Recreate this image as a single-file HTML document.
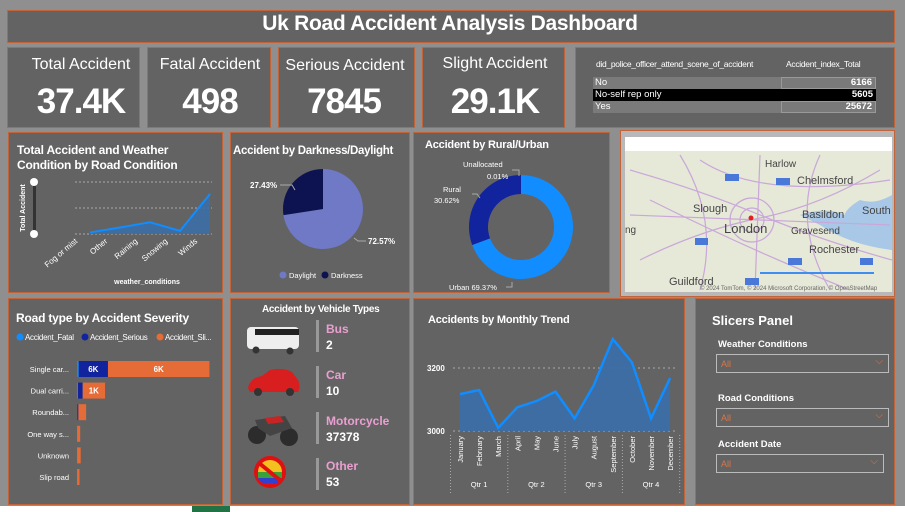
<!DOCTYPE html>
<html><head><meta charset="utf-8"><style>
*{box-sizing:border-box;margin:0;padding:0}
body{width:905px;height:512px;background:#8f8f8f;font-family:"Liberation Sans",sans-serif;position:relative;overflow:hidden;color:#fff}
.p{position:absolute;background:#636363;border:1px solid #c0643c}
.t{position:absolute;font-weight:bold;white-space:nowrap}
.k{font-weight:normal;font-size:16px;text-align:center;width:160px}
.v{font-size:35px;text-align:center;letter-spacing:-1px;width:160px}
svg{position:absolute;left:0;top:0}
</style></head><body>
<div class="p" style="left:7px;top:10px;width:888px;height:33px"></div>
<div class="t" style="left:5px;width:890px;text-align:center;top:12px;font-size:21px;letter-spacing:-0.3px">Uk Road Accident Analysis Dashboard</div>

<div class="p" style="left:7px;top:47px;width:133px;height:81px"></div>
<div class="t k" style="left:1px;top:56px">Total Accident</div>
<div class="t v" style="left:1px;top:82px">37.4K</div>
<div class="p" style="left:147px;top:47px;width:124px;height:81px"></div>
<div class="t k" style="left:130px;top:56px">Fatal Accident</div>
<div class="t v" style="left:130px;top:82px">498</div>
<div class="p" style="left:278px;top:47px;width:137px;height:81px"></div>
<div class="t k" style="left:265px;top:57px">Serious Accident</div>
<div class="t v" style="left:264px;top:82px">7845</div>
<div class="p" style="left:422px;top:47px;width:143px;height:81px"></div>
<div class="t k" style="left:415px;top:55px">Slight Accident</div>
<div class="t v" style="left:415px;top:82px">29.1K</div>
<div class="p" style="left:575px;top:47px;width:320px;height:81px"></div>
<div style="position:absolute;left:596px;top:59px;font-size:8.5px;letter-spacing:-0.3px;white-space:nowrap">did_police_officer_attend_scene_of_accident</div>
<div style="position:absolute;left:786px;top:59px;font-size:8.5px;letter-spacing:-0.3px;white-space:nowrap">Accident_index_Total</div>
<div style="position:absolute;left:593px;top:77px;width:283px;font-size:9.5px">
<div style="display:flex;background:#7a7a7a;height:12px;line-height:12px"><span style="width:188px;padding-left:2px">No</span><span style="flex:1;text-align:right;padding-right:3px;font-weight:bold;border:1px solid #999;line-height:10px">6166</span></div>
<div style="display:flex;background:#000;height:12px;line-height:12px"><span style="width:188px;padding-left:2px">No-self rep only</span><span style="flex:1;text-align:right;padding-right:3px;font-weight:bold">5605</span></div>
<div style="display:flex;background:#7a7a7a;height:12px;line-height:12px"><span style="width:188px;padding-left:2px">Yes</span><span style="flex:1;text-align:right;padding-right:3px;font-weight:bold;border:1px solid #999;line-height:10px">25672</span></div>
</div>

<div class="p" style="left:8px;top:132px;width:215px;height:161px"></div>
<div class="p" style="left:230px;top:132px;width:180px;height:161px"></div>
<div class="p" style="left:413px;top:132px;width:197px;height:161px"></div>
<div class="p" style="left:620px;top:130px;width:275px;height:167px;background:#b8b8b8"></div>
<div class="p" style="left:8px;top:298px;width:215px;height:207px"></div>
<div class="p" style="left:230px;top:298px;width:180px;height:207px"></div>
<div class="p" style="left:413px;top:298px;width:272px;height:207px"></div>
<div class="p" style="left:695px;top:298px;width:200px;height:207px"></div>
<div style="position:absolute;left:0;top:506px;width:905px;height:6px;background:#fff"></div>
<div style="position:absolute;left:192px;top:506px;width:38px;height:6px;background:#217346"></div>

<div class="t" style="left:17px;top:143px;font-size:12px;line-height:15px;letter-spacing:-0.2px">Total Accident and Weather<br>Condition by Road Condition</div>
<div class="t" style="left:233px;top:145px;font-size:11.5px;letter-spacing:-0.3px">Accident by Darkness/Daylight</div>
<div class="t" style="left:425px;top:139px;font-size:11px;letter-spacing:-0.2px">Accident by Rural/Urban</div>
<div class="t" style="left:16px;top:311px;font-size:12px;letter-spacing:-0.2px">Road type by Accident Severity</div>
<div class="t" style="left:262px;top:304px;font-size:10px;letter-spacing:-0.3px">Accident by Vehicle Types</div>
<div class="t" style="left:428px;top:314px;font-size:11px;letter-spacing:-0.2px">Accidents by Monthly Trend</div>
<div class="t" style="left:712px;top:313px;font-size:13px">Slicers Panel</div>

<div class="t" style="left:718px;top:339px;font-size:9.5px">Weather Conditions</div>
<div style="position:absolute;left:716px;top:354px;width:173px;height:19px;border:1px solid #bbb;color:#d9764a;font-size:9px;padding:4px 4px">All<span style="position:absolute;right:5px;top:1px;font-size:10px">⌵</span></div>
<div class="t" style="left:718px;top:393px;font-size:9.5px">Road Conditions</div>
<div style="position:absolute;left:716px;top:408px;width:173px;height:19px;border:1px solid #bbb;color:#d9764a;font-size:9px;padding:4px 4px">All<span style="position:absolute;right:5px;top:1px;font-size:10px">⌵</span></div>
<div class="t" style="left:718px;top:439px;font-size:9.5px">Accident Date</div>
<div style="position:absolute;left:716px;top:454px;width:168px;height:19px;border:1px solid #bbb;color:#d9764a;font-size:9px;padding:4px 4px">All<span style="position:absolute;right:5px;top:1px;font-size:10px">⌵</span></div>

<svg width="905" height="512" id="c" font-family="Liberation Sans, sans-serif">
<g>
<rect x="625" y="137" width="267" height="14" fill="#fff"/>
<rect x="625" y="151" width="267" height="141" fill="#e6e8d8"/>
<path d="M860 200 Q875 205 892 195 L892 240 Q870 235 850 225 Q835 215 860 200Z" fill="#a9c8e8"/>
<path d="M800 215 Q830 205 850 218 Q860 230 892 238 L892 250 Q850 245 820 225Z" fill="#a9c8e8"/>
<g stroke="#c9a7d9" stroke-width="1.2" fill="none">
<path d="M630 170 Q700 190 760 215 T892 260"/><path d="M640 260 Q700 230 760 218 T880 170"/>
<path d="M760 155 L755 290"/><path d="M630 215 L890 225"/><path d="M680 155 Q720 220 700 290"/>
<path d="M820 155 Q790 220 830 290"/><path d="M650 200 Q750 250 850 290"/><path d="M700 160 Q760 200 890 180"/>
<circle cx="752" cy="220" r="22"/><circle cx="752" cy="220" r="12"/>
</g>
<circle cx="751" cy="218" r="2.5" fill="#e02020"/>
<g fill="#444" font-size="11"><text x="765" y="167" font-size="10">Harlow</text><text x="797" y="184">Chelmsford</text><text x="693" y="212">Slough</text><text x="724" y="233" font-size="13">London</text><text x="802" y="218">Basildon</text><text x="862" y="214">South</text><text x="791" y="234" font-size="10">Gravesend</text><text x="809" y="253">Rochester</text><text x="669" y="285">Guildford</text><text x="625" y="233" font-size="10">ng</text></g>
<g fill="#4a78d8"><rect x="725" y="174" width="14" height="7"/><rect x="776" y="178" width="14" height="7"/><rect x="695" y="238" width="13" height="7"/><rect x="788" y="258" width="14" height="7"/><rect x="860" y="258" width="13" height="7"/><rect x="745" y="278" width="14" height="7"/></g>
<rect x="760" y="272" width="114" height="2" fill="#3d8ef0"/>
<text x="700" y="290" font-size="6" fill="#666">© 2024 TomTom, © 2024 Microsoft Corporation, © OpenStreetMap</text>
</g>
<g><rect x="247" y="327" width="52" height="22" rx="4" fill="#eee"/><rect x="255" y="329" width="44" height="6" fill="#222"/><circle cx="256" cy="350" r="3.5" fill="#333"/><circle cx="290" cy="351" r="3.5" fill="#333"/></g>
<g><path d="M248 388 Q250 378 262 376 L270 370 Q283 367 292 372 L298 380 Q301 387 298 392 L250 392Z" fill="#d81e1e"/><circle cx="258" cy="392" r="4" fill="#333"/><circle cx="290" cy="392" r="4" fill="#333"/></g>
<g><circle cx="257" cy="435" r="9" fill="#2c2c2c"/><circle cx="289" cy="437" r="9" fill="#2c2c2c"/><path d="M255 420 L285 416 L292 428 L270 436 L258 428Z" fill="#444"/><path d="M265 418 L280 416 L284 422 L268 424Z" fill="#c92424"/></g>
<g><circle cx="270" cy="472" r="16" fill="#e01010"/><circle cx="270" cy="472" r="12" fill="#f3c020"/><rect x="258" y="472" width="24" height="6" fill="#3aa03a"/><path d="M258 478 H282 Q280 484 270 484 Q260 484 258 478Z" fill="#3040d0"/><path d="M259 463 L281 481" stroke="#e01010" stroke-width="4"/></g>
<g fill="#999"><rect x="316" y="320" width="3" height="32"/><rect x="316" y="366" width="3" height="32"/><rect x="316" y="412" width="3" height="32"/><rect x="316" y="458" width="3" height="32"/></g>
<g font-weight="bold" font-size="12"><text x="326" y="333" fill="#e9a0d0">Bus</text><text x="326" y="349" fill="#fff">2</text>
<text x="326" y="379" fill="#e9a0d0">Car</text><text x="326" y="395" fill="#fff">10</text>
<text x="326" y="425" fill="#e9a0d0">Motorcycle</text><text x="326" y="441" fill="#fff">37378</text>
<text x="326" y="470" fill="#e9a0d0">Other</text><text x="326" y="486" fill="#fff">53</text></g>
<g font-size="8" fill="#fff" letter-spacing="-0.3"><circle cx="20" cy="337" r="3.5" fill="#118dff"/><text x="25" y="340">Accident_Fatal</text><circle cx="85" cy="337" r="3.5" fill="#12239e"/><text x="90" y="340">Accident_Serious</text><circle cx="160" cy="337" r="3.5" fill="#e66c37"/><text x="165" y="340">Accident_Sli...</text></g>
<rect x="33" y="182" width="3" height="52" fill="#333"/><circle cx="34" cy="182" r="4" fill="#fff"/><circle cx="34" cy="234" r="4" fill="#fff"/>
<text x="0" y="0" transform="translate(25,208) rotate(-90)" font-size="7" font-weight="bold" fill="#fff" text-anchor="middle">Total Accident</text>
<text x="147" y="284" font-size="7" font-weight="bold" fill="#fff" text-anchor="middle">weather_conditions</text>
<circle cx="283" cy="275" r="3.5" fill="#6f79c6"/><text x="289" y="278" font-size="7.5" fill="#fff">Daylight</text>
<circle cx="325" cy="275" r="3.5" fill="#0d1250"/><text x="331" y="278" font-size="7.5" fill="#fff">Darkness</text>
</svg>
<script>
const NS='http://www.w3.org/2000/svg';const svg=document.getElementById('c');
function mk(tag,attrs,parent){const e=document.createElementNS(NS,tag);for(const k in attrs)e.setAttribute(k,attrs[k]);(parent||svg).appendChild(e);return e;}

const weatherCats=['Fog or mist','Other','Raining','Snowing','Winds'];
const weatherVals=[60,250,450,120,1540];
const wx=i=>90+i*30, wy=v=>234-v/1000*26;
[0,1000,2000].forEach(v=>{const g=mk('line',{x1:75,x2:212,y1:wy(v),y2:wy(v),stroke:'#aaa','stroke-dasharray':'2 2'});});
let wp=weatherVals.map((v,i)=>wx(i)+','+wy(v)).join(' ');
const wa=mk('polygon',{points:wp+' '+wx(4)+','+wy(0)+' '+wx(0)+','+wy(0),fill:'#3b6ea5',opacity:0.9});

const wl=mk('polyline',{points:wp,fill:'none',stroke:'#118dff','stroke-width':2});

weatherCats.forEach((c,i)=>{const t=mk('text',{x:wx(i)-12,y:242,'font-size':8,fill:'#fff','text-anchor':'end',transform:`rotate(-40 ${wx(i)-12} 242)`});t.textContent=c;});

const dayCats=['Daylight','Darkness'];
const dayVals=[72.57,27.43];
const dayColors=['#6f79c6','#0d1250'];
function arc(cx,cy,r,a0,a1,ri){const p=(a,rr)=>[cx+rr*Math.sin(a),cy-rr*Math.cos(a)];const l=a1-a0>Math.PI?1:0;const [x0,y0]=p(a0,r),[x1,y1]=p(a1,r);if(!ri)return `M${cx},${cy}L${x0},${y0}A${r},${r} 0 ${l} 1 ${x1},${y1}Z`;const [x2,y2]=p(a1,ri),[x3,y3]=p(a0,ri);return `M${x0},${y0}A${r},${r} 0 ${l} 1 ${x1},${y1}L${x2},${y2}A${ri},${ri} 0 ${l} 0 ${x3},${y3}Z`;}
let tot=dayVals.reduce((a,b)=>a+b),a=0;
dayVals.forEach((v,i)=>{const a1=a+v/tot*2*Math.PI;const s=mk('path',{d:arc(323,209,40,a,a1),fill:dayColors[i]});a=a1;});
const pl1=mk('text',{x:250,y:188,'font-size':8,'font-weight':'bold',fill:'#fff'});pl1.textContent=dayVals[1].toFixed(2)+'%';
const pl2=mk('text',{x:368,y:244,'font-size':8,'font-weight':'bold',fill:'#fff'});pl2.textContent=dayVals[0].toFixed(2)+'%';
mk('path',{d:'M280 185 H292 L295 190',stroke:'#aaa',fill:'none'});mk('path',{d:'M354 238 L358 241 H366',stroke:'#aaa',fill:'none'});

const areaCats=['Urban','Unallocated','Rural'];
const areaVals=[69.37,0.01,30.62];
const areaColors=['#118dff','#8ad4eb','#12239e'];
tot=areaVals.reduce((x,y)=>x+y);a=0;
areaVals.forEach((v,i)=>{const a1=a+v/tot*2*Math.PI;const s=mk('path',{d:arc(521,227,52,a,a1,33),fill:areaColors[i]});a=a1;});
[['Unallocated',463,167],[areaVals[1].toFixed(2)+'%',487,179],['Rural',443,192],[areaVals[2].toFixed(2)+'%',434,203],['Urban '+areaVals[0].toFixed(2)+'%',449,290]].forEach(([s,x,y])=>{const t=mk('text',{x,y,'font-size':7.5,fill:'#fff'});t.textContent=s;});
mk('path',{d:'M512 170 H519 V176',stroke:'#aaa',fill:'none'});mk('path',{d:'M472 194 H477 L480 198',stroke:'#aaa',fill:'none'});mk('path',{d:'M506 287 H512 V282',stroke:'#aaa',fill:'none'});

const roadCats=['Single car...','Dual carri...','Roundab...','One way s...','Unknown','Slip road'];
const fatalVals=[100,60,20,5,5,5];
const seriousVals=[1700,270,60,0,0,0];
const slightVals=[5900,1300,450,180,210,140];
const seriousLabels=['6K','','','','',''];
const slightLabels=['6K','1K','','','',''];
const bx=v=>v*0.0172, by=i=>369+i*21.6;
roadCats.forEach((c,i)=>{let x=77;const t=mk('text',{x:69,y:by(i)+3,'font-size':7.5,fill:'#fff','text-anchor':'end'});t.textContent=c;
[[fatalVals,'#118dff',null],[seriousVals,'#12239e',seriousLabels],[slightVals,'#e66c37',slightLabels]].forEach(([arr,col,lab])=>{const w=bx(arr[i]);if(w<=0)return;const r=mk('rect',{x,y:by(i)-8,width:w,height:16,fill:col});if(lab&&lab[i]){const l=mk('text',{x:x+w/2,y:by(i)+3,'font-size':8,'font-weight':'bold',fill:'#fff','text-anchor':'middle'});l.textContent=lab[i];}x+=w;});});

const months=['January','February','March','April','May','June','July','August','September','October','November','December'];
const monthVals=[3117,3130,3010,3075,3095,3125,3040,3145,3292,3218,3040,3168];
const yTicks=[3000,3200];
const quarters=['Qtr 1','Qtr 2','Qtr 3','Qtr 4'];
const mx=i=>460+i*19.1, my=v=>431-(v-3000)*63/200;
yTicks.forEach(v=>{const g=mk('line',{x1:453,x2:678,y1:my(v),y2:my(v),stroke:'#aaa','stroke-dasharray':'2 3'});const t=mk('text',{x:427,y:my(v)+3,'font-size':8,'font-weight':'bold',fill:'#fff'});t.textContent=v;});
const mp=monthVals.map((v,i)=>mx(i)+','+my(v)).join(' ');
const ma=mk('polygon',{points:mp+' '+mx(11)+','+my(3000)+' '+mx(0)+','+my(3000),fill:'#3b6ea5',opacity:0.95});
const ml=mk('polyline',{points:mp,fill:'none',stroke:'#118dff','stroke-width':2.5});
months.forEach((m,i)=>{const t=mk('text',{x:mx(i)+3,y:436,'font-size':7.5,fill:'#fff','text-anchor':'end',transform:`rotate(-90 ${mx(i)+3} 436)`});t.textContent=m;});
quarters.forEach((q,i)=>{const t=mk('text',{x:mx(i*3+1),y:487,'font-size':7.5,fill:'#fff','text-anchor':'middle'});t.textContent=q;const sx=mx(i*3)-9.5;mk('line',{x1:sx,x2:sx,y1:435,y2:494,stroke:'#aaa','stroke-dasharray':'1 2'});});
mk('line',{x1:mx(12)-9.5,x2:mx(12)-9.5,y1:435,y2:494,stroke:'#aaa','stroke-dasharray':'1 2'});
</script>
</body></html>
